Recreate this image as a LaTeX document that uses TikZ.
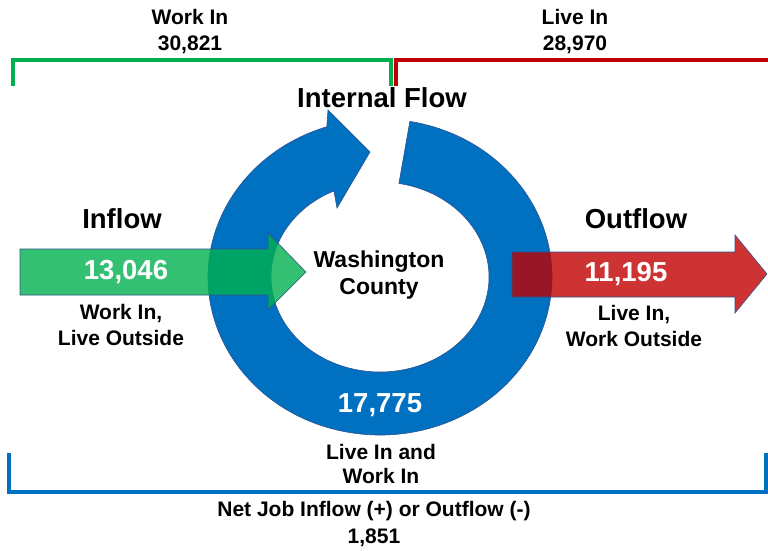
\documentclass[tikz,border=0pt]{standalone}
\usepackage{fontspec}
\setmainfont{Liberation Sans}
\usetikzlibrary{calc}
\definecolor{ringblue}{HTML}{0070C0}
\definecolor{edgeblue}{HTML}{2F528F}
\definecolor{ingreen}{HTML}{00B050}
\definecolor{outred}{HTML}{C00000}
\begin{document}
\begin{tikzpicture}[x=1pt,y=1pt,
  small/.style={inner sep=0pt,align=center,font=\bfseries\fontsize{21}{26}\selectfont},
  big/.style={inner sep=0pt,align=center,font=\bfseries\fontsize{27.5}{30}\selectfont},
  num/.style={big,text=white},
  bracket/.style={line width=3.5pt},
  shapeedge/.style={draw=edgeblue,line width=0.6pt}]
\useasboundingbox (0,0) rectangle (768,550);
\coordinate (c) at (380,273);
% ring arrow
\fill[ringblue,shapeedge]
  ($(c)+(80:172 and 158)$)
  arc[start angle=80,end angle=-252,x radius=172pt,y radius=158pt]
  -- (328,440) -- (370,398) -- (337,342)
  -- ($(c)+(115:109 and 95)$)
  arc[start angle=115,end angle=440,x radius=109pt,y radius=95pt]
  -- cycle;
% inflow arrow
\fill[ingreen,fill opacity=0.8,shapeedge]
  (20,301) -- (268,301) -- (268,317) -- (306,278) -- (268,240) -- (268,255) -- (20,255) -- cycle;
% outflow arrow
\fill[outred,fill opacity=0.8,shapeedge]
  (512,298) -- (735,298) -- (735,315) -- (767,276) -- (735,237) -- (735,253) -- (512,253) -- cycle;
% brackets
\draw[bracket,ingreen] (13,464) -- (13,490) -- (391,490) -- (391,464);
\draw[bracket,outred] (396,464) -- (396,490) -- (772,490);
\draw[bracket,ringblue] (9,97) -- (9,58) -- (766,58) -- (766,97);
% texts
\node[small] (workin) at (190,518) {Work In\\30,821};
\node[small] (livein) at (575,518) {Live In\\28,970};
\node[big] (internal) at (382,452) {Internal Flow};
\node[big] (inflow) at (122,331) {Inflow};
\node[big] (outflow) at (636,331) {Outflow};
\node[inner sep=0pt,align=center,font=\bfseries\fontsize{23}{27}\selectfont] (county) at (379,275) {Washington\\County};
\node[num] (nin) at (126,278) {13,046};
\node[num] (nout) at (626,276) {11,195};
\node[num] (nint) at (380,145) {17,775};
\node[small] (inlbl) at (121,225) {Work In,\\Live Outside};
\node[small] (outlbl) at (634,224) {Live In,\\Work Outside};
\node[small,font=\bfseries\fontsize{21}{24}\selectfont] (intlbl) at (381,86) {Live In and\\Work In};
\node[small,font=\bfseries\fontsize{21}{27}\selectfont] (net) at (374,26) {Net Job Inflow (+) or Outflow (-)\\1,851};
\end{tikzpicture}
\end{document}
